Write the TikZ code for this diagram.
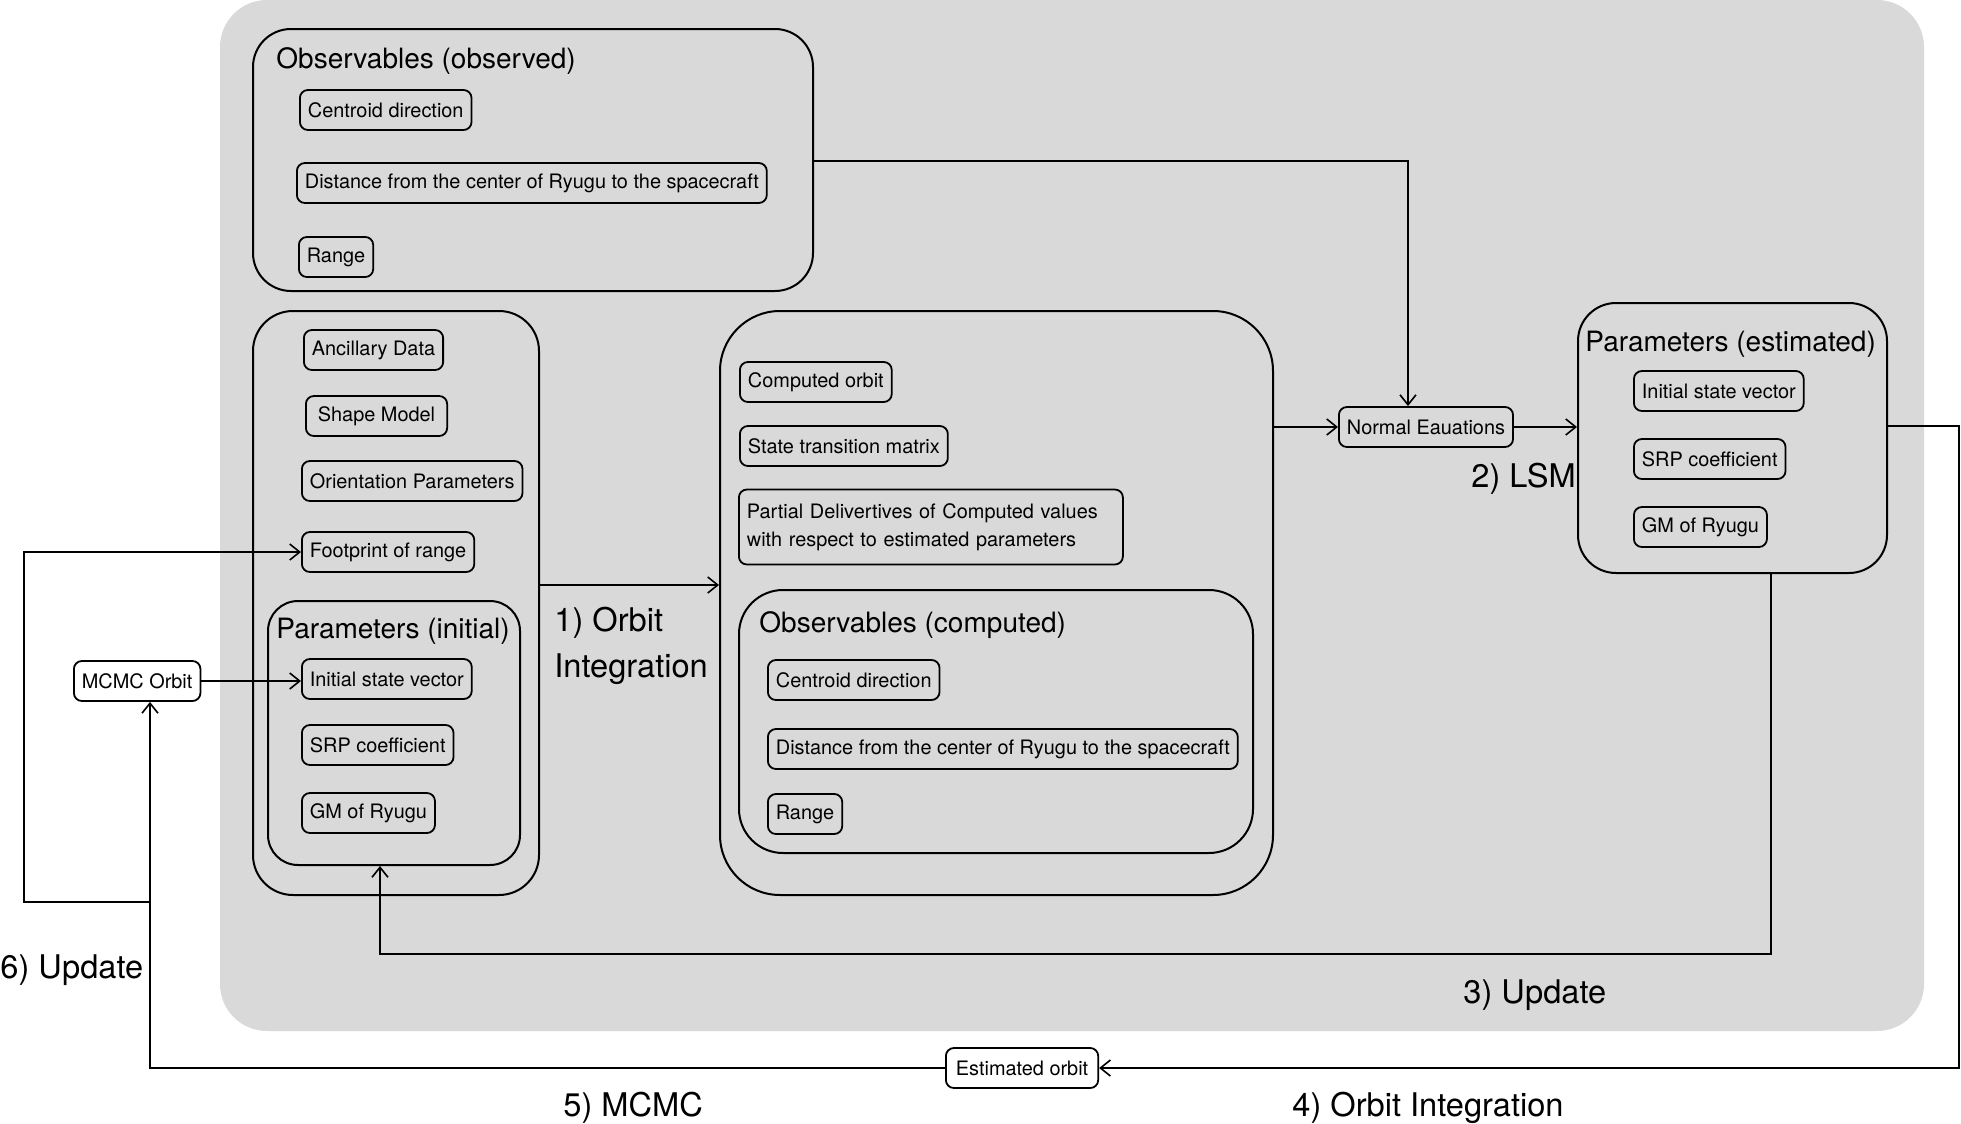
\documentclass[tikz,border=0pt]{standalone}
\usepackage{fontspec}
\setmainfont{TeX Gyre Heros}
\usetikzlibrary{arrows.meta,fit}

\definecolor{bggray}{HTML}{D9D9D9}

\tikzset{
  item/.style={draw, rounded corners=4pt, line width=0.9pt, inner xsep=4pt, inner ysep=0pt,
    minimum height=20pt, anchor=west, font=\fontsize{9.95}{14}\selectfont},
  group/.style={draw, line width=1pt, inner sep=0pt},
  head/.style={anchor=west, inner sep=0pt, yshift=-1.5pt, font=\fontsize{14}{17}\selectfont},
  steplabel/.style={anchor=west, inner sep=0pt, yshift=-1.5pt, align=left, font=\fontsize{16.3}{23}\selectfont},
  link/.style={line width=0.8pt, -{Straight Barb[length=5pt,width=8pt]}}
}

\begin{document}
\begin{tikzpicture}[x=0.5pt, y=-0.5pt]
  \useasboundingbox (0,0) rectangle (1961,1124);
  % Background
  \fill[bggray, rounded corners=23.5pt] (220,0) rectangle (1924,1031);

  % Groups
  \node (obsObs) [group, rounded corners=19pt, fit={(253,29) (813,291)}] {};
  \node (ancBox) [group, rounded corners=20pt, fit={(253,311) (539,895)}] {};
  \node (parInit) [group, rounded corners=15pt, fit={(268,601) (520,865)}] {};
  \node (compBox) [group, rounded corners=30pt, fit={(720,311) (1273,895)}] {};
  \node (obsComp) [group, rounded corners=22pt, fit={(739,590) (1253,853)}] {};
  \node (parEst) [group, rounded corners=19pt, fit={(1578,303) (1887,573)}] {};

  % Titles
  \node (obsObsT) [head] at (276,58) {Observables (observed)};
  \node (parInitT) [head] at (276,628) {Parameters (initial)};
  \node (obsCompT) [head] at (759,622) {Observables (computed)};
  \node (parEstT) [head] at (1585,341) {Parameters (estimated)};

  % Nodes
  \node (oCen) [item] at (299,110) {Centroid direction};
  \node (oDist) [item] at (296,183) {Distance from the center of Ryugu to the spacecraft};
  \node (oRange) [item] at (298,257) {Range};

  \node (anc) [item] at (303,350) {Ancillary Data};
  \node (shape) [item, inner xsep=6pt] at (305,416) {Shape Model};
  \node (orient) [item] at (301,481) {Orientation Parameters};
  \node (foot) [item] at (301,552) {Footprint of range};
  \node (iState) [item] at (301,679) {Initial state vector};
  \node (iSrp) [item] at (301,745) {SRP coefficient};
  \node (iGm) [item] at (301,813) {GM of Ryugu};

  \node (cOrbit) [item] at (739,382) {Computed orbit};
  \node (stm) [item] at (739,446) {State transition matrix};
  \node (partial) [item, minimum height=37.5pt, text width=184pt, align=left] at (738,527)
    {Partial Delivertives of Computed values\\with respect to estimated parameters};
  \node (cCen) [item] at (767,680) {Centroid direction};
  \node (cDist) [item] at (767,749) {Distance from the center of Ryugu to the spacecraft};
  \node (cRange) [item] at (767,814) {Range};

  \node (normal) [item] at (1338,427) {Normal Eauations};
  \node (eState) [item] at (1633,391) {Initial state vector};
  \node (eSrp) [item] at (1633,459) {SRP coefficient};
  \node (eGm) [item] at (1633,527) {GM of Ryugu};

  \node (mcmc) [item, fill=white] at (73,681) {MCMC Orbit};
  \node (estOrbit) [item, fill=white, inner xsep=5pt] at (945,1068) {Estimated orbit};

  % Step labels
  \node (lab1) [steplabel] at (554,643) {1) Orbit\\Integration};
  \node (lab2) [steplabel] at (1471,476) {2) LSM};
  \node (lab3) [steplabel] at (1463,992) {3) Update};
  \node (lab4) [steplabel] at (1292,1105) {4) Orbit Integration};
  \node (lab5) [steplabel] at (563,1105) {5) MCMC};
  \node (lab6) [steplabel] at (0,967) {6) Update};

  % Arrows
  \coordinate (obsTurn) at (1408,161);
  \draw[link] (obsObs.east |- obsTurn) -- (obsTurn) -- (obsTurn |- normal.north);
  \draw[link] (compBox.east |- normal.west) -- (normal.west);
  \draw[link] (normal.east) -- (normal.east -| parEst.west);
  \coordinate (rightTop) at (1959,426);
  \coordinate (rightBot) at (1959,1068);
  \draw[link] (parEst.east |- rightTop) -- (rightTop) -- (rightBot) -- (estOrbit.east);
  \coordinate (leftBot) at (150,1068);
  \draw[link] (estOrbit.west) -- (leftBot) -- (leftBot |- mcmc.south);
  \coordinate (branch) at (150,902);
  \coordinate (farLeft) at (24,902);
  \draw[link] (branch) -- (farLeft) -- (farLeft |- foot.west) -- (foot.west);
  \coordinate (estDown) at (1771,954);
  \coordinate (initUp) at (380,954);
  \draw[link] (estDown |- parEst.south) -- (estDown) -- (initUp) -- (initUp |- parInit.south);
  \coordinate (orbitArr) at (540,585);
  \draw[link] (ancBox.east |- orbitArr) -- (orbitArr -| compBox.west);
  \draw[link] (mcmc.east) -- (mcmc.east -| iState.west);
\end{tikzpicture}
\end{document}
